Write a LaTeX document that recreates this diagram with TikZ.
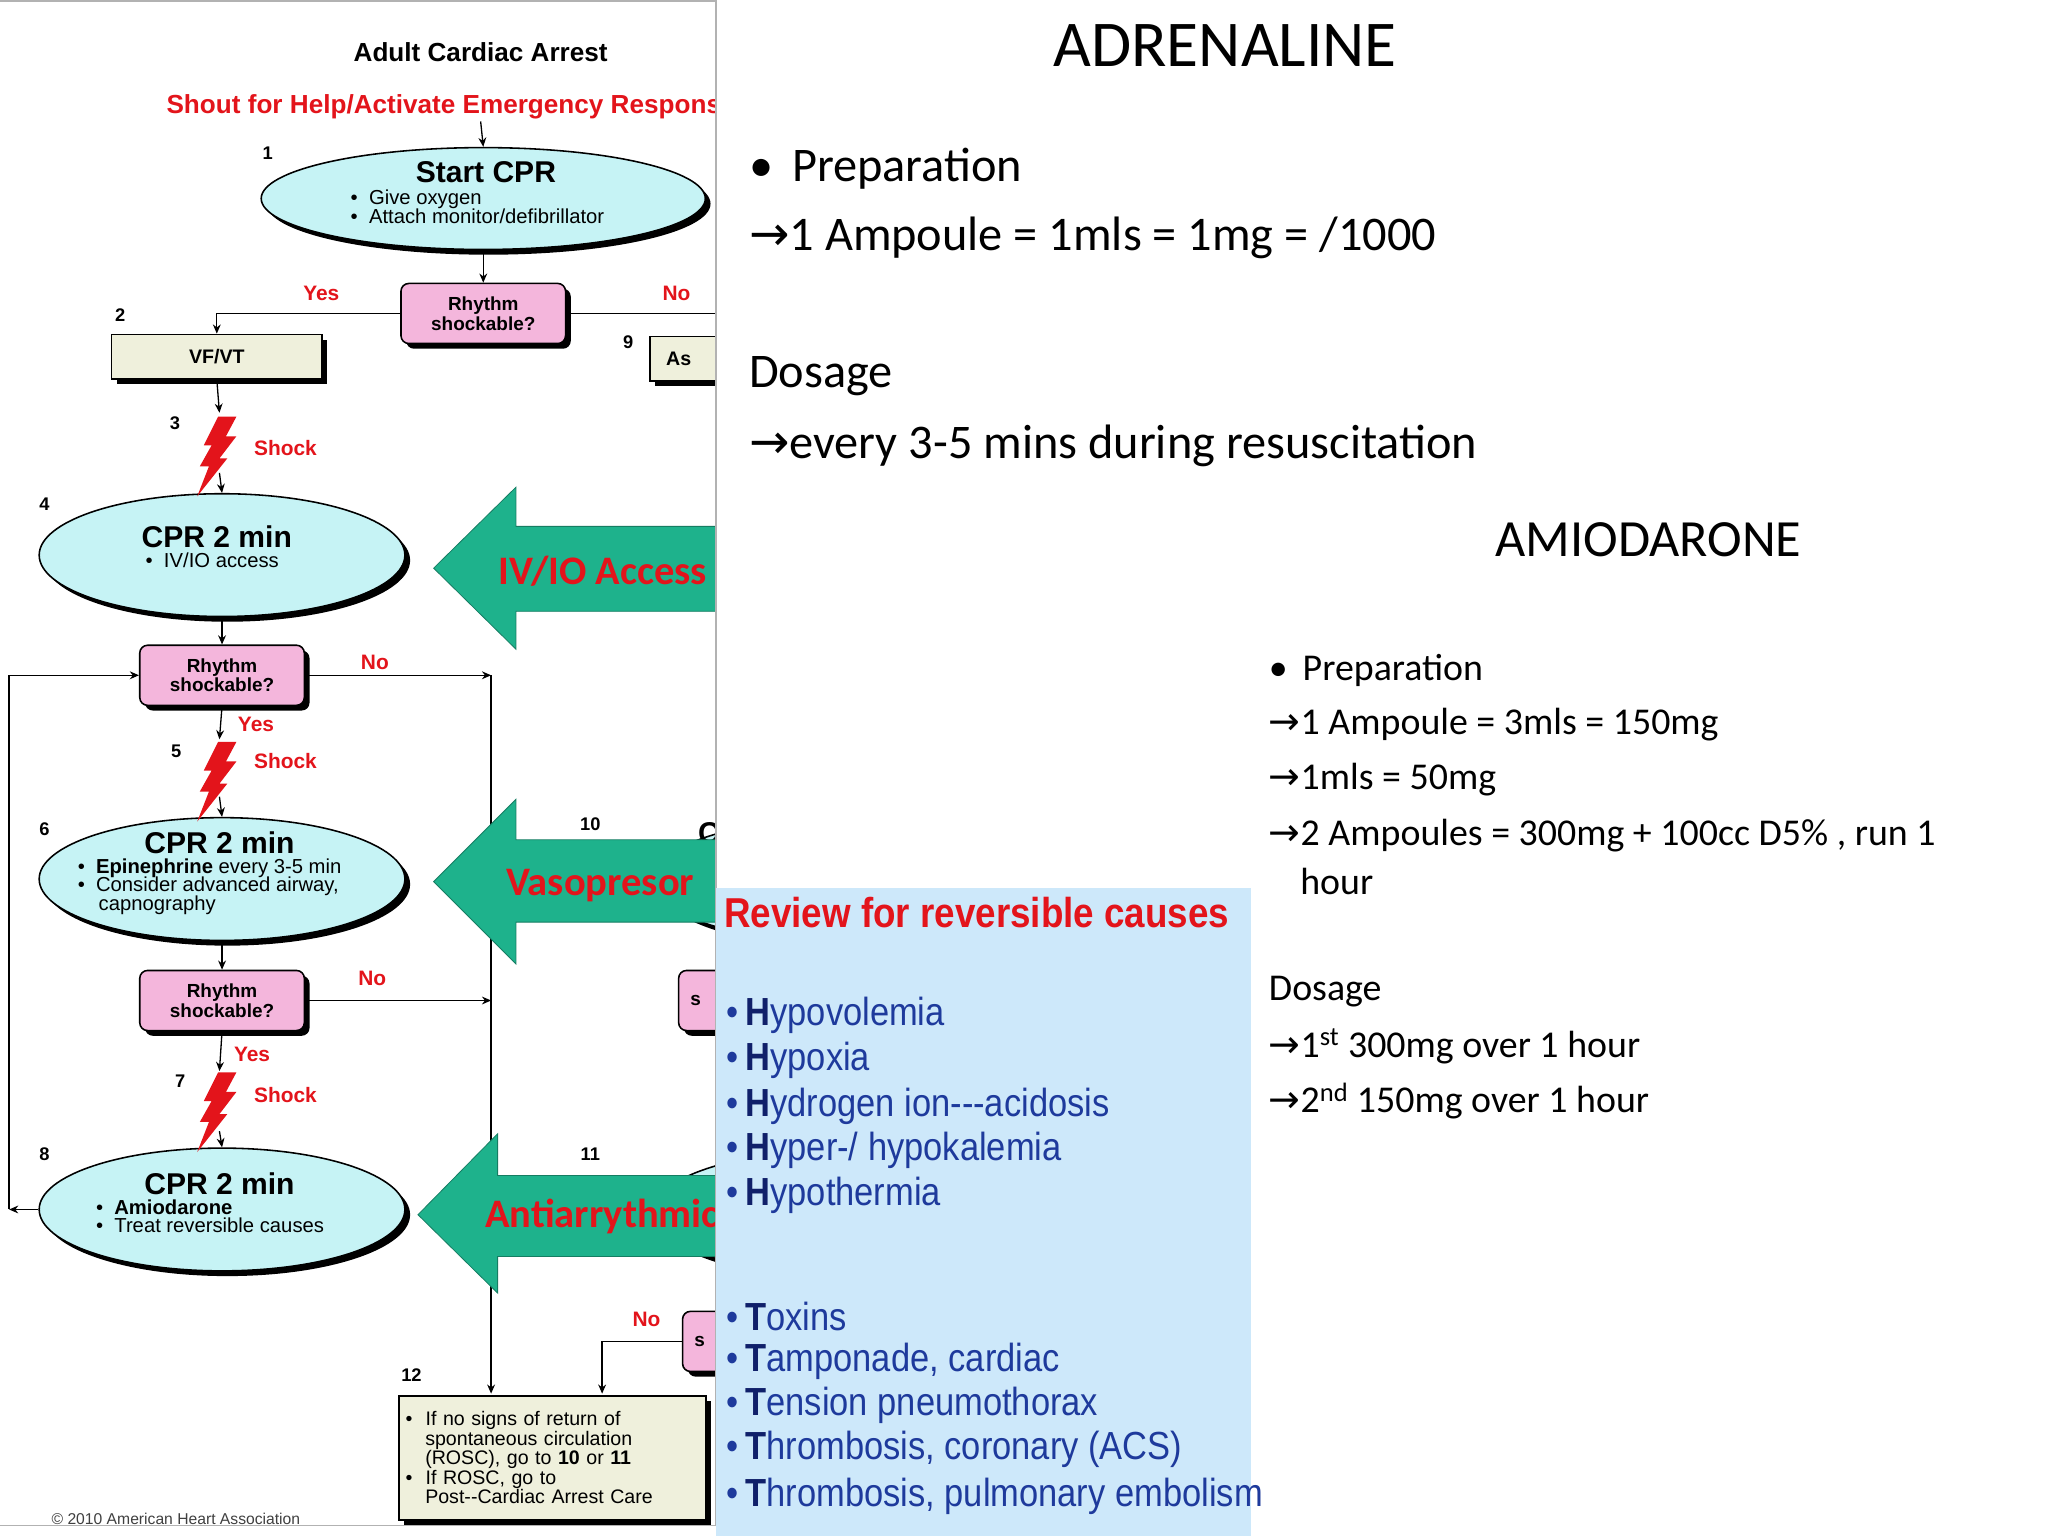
\documentclass[tikz,border=0pt]{standalone}
\usepackage{fontspec}
\setmainfont{Carlito}
\newfontfamily\hv{Liberation Sans}
\newfontfamily\nar{Liberation Sans}[FakeStretch=0.88]
\newfontfamily\djv{DejaVu Sans}
\usetikzlibrary{shapes.geometric,shadows,arrows.meta}
\definecolor{cyanf}{HTML}{C6F3F5}
\definecolor{pinkf}{HTML}{F4B6DC}
\definecolor{beige}{HTML}{EFF0DC}
\definecolor{grn}{HTML}{1EB28C}
\definecolor{rd}{HTML}{E3141B}
\definecolor{panel}{HTML}{CDE8FA}
\definecolor{navy}{HTML}{10206A}
\definecolor{blu}{HTML}{1E3A9C}
\tikzset{
 shd/.style={drop shadow={shadow xshift=4pt,shadow yshift=-4pt,fill=black,opacity=1}},
 ell/.style={ellipse,draw=black,line width=1.2pt,fill=cyanf,shd,inner sep=0pt},
 pk/.style={rectangle,rounded corners=6pt,draw=black,line width=1.2pt,fill=pinkf,shd,minimum width=126pt,minimum height=46pt,align=center,font=\hv\bfseries\fontsize{14.5}{15}\selectfont,inner sep=0pt},
 bx/.style={rectangle,draw=black,line width=1.2pt,fill=beige,shd,inner sep=0pt},
 ar/.style={-{Stealth[length=7pt,width=6pt]},line width=1pt},
 ln/.style={line width=1pt},
 num/.style={font=\hv\bfseries\fontsize{14}{14}\selectfont},
 red/.style={text=rd,font=\hv\bfseries\fontsize{16}{16}\selectfont},
 etit/.style={font=\hv\bfseries\fontsize{23}{23}\selectfont},
 esub/.style={font=\hv\fontsize{15.5}{15}\selectfont,align=left},
 garrow/.style={fill=grn,draw=grn!70!black,line width=0.6pt},
 gtext/.style={text=rd,font=\bfseries\fontsize{31}{31}\selectfont},
 big/.style={font=\fontsize{37}{37}\selectfont,anchor=west},
 med/.style={font=\fontsize{29}{29}\selectfont,anchor=west},
 cause/.style={font=\nar\fontsize{30}{30}\selectfont,anchor=west,text=blu},
}
\newcommand{\boltat}[2]{\fill[rd] (#1,#2) ++(4,-24) -- ++(14,0) -- ++(-8,15) -- ++(8,0) -- ++(-13,17) -- ++(6,0) -- ++(-23,29) -- ++(9,-23) -- ++(-7,0) -- ++(9,-16) -- ++(-6,0) -- cycle;}
\newcommand{\cz}[2]{\textbf{\color{navy}#1}#2}
\newcommand{\myra}{{\djv\char"2192}}
\begin{document}
\begin{tikzpicture}[x=1pt,y=-1pt]
\useasboundingbox (0,0) rectangle (1568,1176);
\fill[white] (0,0) rectangle (1568,1176);
% ---------- left flowchart
\begin{scope}
\clip (0,0) rectangle (548,1168);
\node[font=\hv\bfseries\fontsize{20}{20}\selectfont] (title) at (368,40) {Adult Cardiac Arrest};
\node[anchor=west,text=rd,font=\hv\bfseries\fontsize{20}{20}\selectfont] (shout) at (124,82) {Shout for Help/Activate Emergency Response};
\node[ell,minimum width=280pt,minimum height=94pt] (e10) at (640,674) {};
\node[anchor=west,etit] (c10) at (531,638) {C};
\node[ell,minimum width=280pt,minimum height=94pt] (e11) at (640,928) {};
\node[bx,minimum width=120pt,minimum height=34pt,font=\hv\bfseries\fontsize{15}{15}\selectfont,anchor=north west] (b9) at (497,257) {\hspace*{-76pt}As};
\node[pk,anchor=west] (p10) at (519,766) {\hspace*{-100pt}s};
\node[pk,anchor=west] (p11) at (522,1027) {\hspace*{-100pt}s};
\node[ell,minimum width=340pt,minimum height=78pt] (e1) at (370,152) {};
\node[etit] (t1) at (372,132) {Start CPR};
\node[esub,anchor=north west] (s1) at (265,142) {\textbullet\ \ Give oxygen\\[-1pt]\textbullet\ \ Attach monitor/defibrillator};
\node[pk] (r1) at (370,240) {Rhythm\\shockable?};
\node[bx,minimum width=161pt,minimum height=34pt,font=\hv\bfseries\fontsize{15}{15}\selectfont] (vf) at (166,273) {VF/VT};
\node[ell,minimum width=280pt,minimum height=94pt] (e4) at (170,425) {};
\node[etit] (t4) at (166,411) {CPR 2 min};
\node[esub,anchor=north west] (s4) at (108,420) {\textbullet\ \ IV/IO access};
\node[pk] (r2) at (170,517) {Rhythm\\shockable?};
\node[ell,minimum width=280pt,minimum height=94pt] (e6) at (170,673) {};
\node[etit] (t6) at (168,645) {CPR 2 min};
\node[esub,anchor=north west] (s6) at (56,654) {\textbullet\ \ \textbf{Epinephrine} every 3-5 min\\[-1pt]\textbullet\ \ Consider advanced airway,\\[-1pt]\hspace*{16pt}capnography};
\node[pk] (r3) at (170,766) {Rhythm\\shockable?};
\node[ell,minimum width=280pt,minimum height=94pt] (e8) at (170,926) {};
\node[etit] (t8) at (168,906) {CPR 2 min};
\node[esub,anchor=north west] (s8) at (70,915) {\textbullet\ \ \textbf{Amiodarone}\\[-1pt]\textbullet\ \ Treat reversible causes};
\node[bx,minimum width=235pt,minimum height=95pt,anchor=north west,font=\hv\fontsize{15}{15}\selectfont,align=left,text width=225pt] (b12) at (305,1068) {\textbullet\ \ If no signs of return of\\\hspace*{15pt}spontaneous circulation\\\hspace*{15pt}(ROSC), go to \textbf{10} or \textbf{11}\\\textbullet\ \ If ROSC, go to\\\hspace*{15pt}Post--Cardiac Arrest Care};
\node[num] (n1) at (205,117) {1};
\node[num] (n2) at (92,241) {2};
\node[num] (n9) at (481,262) {9};
\node[num] (n3) at (134,324) {3};
\node[num] (n4) at (34,386) {4};
\node[num] (n5) at (135,575) {5};
\node[num] (n6) at (34,635) {6};
\node[num] (n7) at (138,828) {7};
\node[num] (n8) at (34,884) {8};
\node[num] (n10) at (452,631) {10};
\node[num] (n11) at (452,884) {11};
\node[num] (n12) at (315,1053) {12};
\node[red] (y1) at (246,225) {Yes};
\node[red] (no1) at (518,225) {No};
\node[red] (no2) at (287,507) {No};
\node[red] (y2) at (196,555) {Yes};
\node[red] (no3) at (285,749) {No};
\node[red] (y3) at (193,807) {Yes};
\node[red] (no4) at (495,1010) {No};
\node[red,anchor=west] (sh1) at (191,343) {Shock};
\node[red,anchor=west] (sh2) at (191,583) {Shock};
\node[red,anchor=west] (sh3) at (191,838) {Shock};
\boltat{163}{343}
\boltat{163}{592}
\boltat{163}{845}
\coordinate (k1) at (168,316); \coordinate (k1b) at (168,362);
\coordinate (k2) at (168,566); \coordinate (k2b) at (168,610);
\coordinate (k3) at (168,820); \coordinate (k3b) at (168,866);
\coordinate (top) at (368,93);
\draw[ar] (top) -- (e1.north);
\draw[ar] (e1.south) -- (r1.north);
\draw[ar] (r1.west) -| (vf.north);
\draw[ln] (r1.east) -- (560,240);
\draw[ar] (vf.south) -- (k1);
\draw[ar] (k1b) -- (e4.north);
\draw[ar] (e4.south) -- (r2.north);
\draw[ar] (r2.south) -- (k2);
\draw[ar] (k2b) -- (e6.north);
\draw[ar] (e6.south) -- (r3.north);
\draw[ar] (r3.south) -- (k3);
\draw[ar] (k3b) -- (e8.north);
\coordinate (vx) at (376,517);
\draw[ar] (r2.east) -- (vx);
\coordinate (vx2) at (376,766);
\draw[ar] (r3.east) -- (vx2);
\coordinate (vb) at (376,1067);
\draw[ar] (vx) -- (vb);
\coordinate (lx) at (7,926);
\draw[ar] (e8.west) -- (lx);
\draw[ar] (lx) -- (7,517) -- (r2.west);
\coordinate (vc) at (461,1067);
\draw[ar] (p11.west) -| (vc);
\fill[garrow] (332,435) -- (395,373) -- (395,403) -- (560,403) -- (560,468) -- (395,468) -- (395,497) -- cycle;
\node[gtext,anchor=west] (g1) at (378,437) {IV/IO Access};
\fill[garrow] (332,675) -- (395,612) -- (395,643) -- (560,643) -- (560,706) -- (395,706) -- (395,738) -- cycle;
\node[gtext,anchor=west] (g2) at (384,678) {Vasopresor};
\fill[garrow] (320,930) -- (381,868) -- (381,900) -- (560,900) -- (560,962) -- (381,962) -- (381,990) -- cycle;
\node[gtext,anchor=west] (g3) at (368,931) {Antiarrythmic};
\node[anchor=west,font=\hv\fontsize{12}{12}\selectfont,text=black!75] (copy) at (36,1163) {\textcopyright\ 2010 American Heart Association};
\end{scope}
\draw[black!30,line width=1.2pt] (548,0) -- (548,1168) -- (0,1168);
\draw[black!30,line width=1.2pt] (0,0.6) -- (548,0.6);
% ---------- right side
\node[font=\fontsize{50}{50}\selectfont] (adr) at (938,35) {ADRENALINE};
\node[big] (a1) at (570,129) {\textbullet\ \,Preparation};
\node[big] (a2) at (570,182) {\myra 1 Ampoule = 1mls = 1mg = /1000};
\node[big] (a3) at (570,288) {Dosage};
\node[big] (a4) at (570,341) {\myra every 3-5 mins during resuscitation};
\node[font=\fontsize{40}{40}\selectfont] (ami) at (1262,413) {AMIODARONE};
\node[med] (m1) at (968,513) {\textbullet\ \,Preparation};
\node[med] (m2) at (968,555) {\myra 1 Ampoule = 3mls = 150mg};
\node[med] (m3) at (968,597) {\myra 1mls = 50mg};
\node[med] (m4) at (968,640) {\myra 2 Ampoules = 300mg + 100cc D5\% , run 1};
\node[med] (m5) at (992,675) {hour};
\node[med] (m6) at (968,759) {Dosage};
\node[med] (m7) at (968,801) {\myra 1\textsuperscript{st} 300mg over 1 hour};
\node[med] (m8) at (968,843) {\myra 2\textsuperscript{nd} 150mg over 1 hour};
% ---------- panel
\fill[panel] (548,680) rectangle (958,1176);
\node[anchor=west,text=rd,font=\nar\bfseries\fontsize{32}{32}\selectfont] (rev) at (551,699) {Review for reversible causes};
\node[cause] (c1) at (553,777) {\textbullet\,\cz{H}{ypovolemia}};
\node[cause] (c2) at (553,812) {\textbullet\,\cz{H}{ypoxia}};
\node[cause] (c3) at (553,847) {\textbullet\,\cz{H}{ydrogen ion---acidosis}};
\node[cause] (c4) at (553,881) {\textbullet\,\cz{H}{yper-/ hypokalemia}};
\node[cause] (c5) at (553,915) {\textbullet\,\cz{H}{ypothermia}};
\node[cause] (c6) at (553,1008) {\textbullet\,\cz{T}{oxins}};
\node[cause] (c7) at (553,1042) {\textbullet\,\cz{T}{amponade, cardiac}};
\node[cause] (c8) at (553,1076) {\textbullet\,\cz{T}{ension pneumothorax}};
\node[cause] (c9) at (553,1110) {\textbullet\,\cz{T}{hrombosis, coronary (ACS)}};
\node[cause] (c10) at (553,1146) {\textbullet\,\cz{T}{hrombosis, pulmonary embolism}};
\end{tikzpicture}
\end{document}
